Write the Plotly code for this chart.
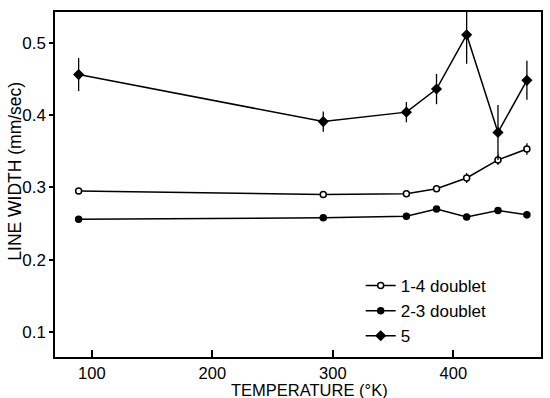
import plotly.graph_objects as go

temps = [89, 292, 361, 386, 411, 437, 461]
w14 = [0.295, 0.290, 0.291, 0.298, 0.313, 0.338, 0.353]
e14 = [0.002, 0.002, 0.002, 0.004, 0.007, 0.007, 0.008]
w23 = [0.256, 0.258, 0.260, 0.270, 0.259, 0.268, 0.262]
e23 = [0.002, 0.002, 0.002, 0.004, 0.004, 0.004, 0.005]
w5 = [0.456, 0.391, 0.404, 0.436, 0.511, 0.376, 0.448]
e5 = [0.023, 0.014, 0.014, 0.021, 0.040, 0.038, 0.027]

FONT = "Liberation Sans"
fig = go.Figure()

def add(name, y, err, symbol, size, fill):
    fig.add_trace(go.Scatter(
        x=temps, y=y, name=name, mode="lines+markers",
        line=dict(color="black", width=1.5),
        marker=dict(symbol=symbol, size=size, color=fill,
                    line=dict(color="black", width=1.5)),
        error_y=dict(type="data", array=err, visible=True,
                     color="black", thickness=1.3, width=0),
    ))

add("1-4 doublet", w14, e14, "circle", 6, "white")
add("2-3 doublet", w23, e23, "circle", 6, "black")
add("5", w5, e5, "diamond", 7, "black")

fig.update_layout(
    width=550, height=398,
    margin=dict(l=55, r=7, t=12, b=41),
    paper_bgcolor="white", plot_bgcolor="white",
    font=dict(family=FONT, size=16, color="black"),
    showlegend=True,
    legend=dict(x=0.629, y=0.258, xanchor="left", yanchor="top",
                bgcolor="rgba(0,0,0,0)", font=dict(size=17),
                itemwidth=30, tracegroupgap=0),
    xaxis=dict(range=[69.4, 472.7], tickvals=[100, 200, 300, 400],
               ticks="inside", ticklen=7, tickwidth=1.5, tickcolor="black",
               showline=True, linecolor="black", linewidth=1.5, mirror=True,
               showgrid=False, zeroline=False,
               tickfont=dict(size=16.5)),
    yaxis=dict(range=[0.0654, 0.5425], tickvals=[0.1, 0.2, 0.3, 0.4, 0.5],
               ticktext=["0.1", "0.2", "0.3", "0.4", "0.5"],
               ticks="outside", ticklen=4, tickwidth=1.5, tickcolor="black",
               showline=True, linecolor="black", linewidth=1.5, mirror=True,
               showgrid=False, zeroline=False,
               tickfont=dict(size=17)),
    annotations=[
        dict(text="TEMPERATURE (°K)", xref="paper", yref="paper",
             x=0.5246, y=-0.0945, xanchor="center", yanchor="middle",
             showarrow=False, font=dict(size=16.5)),
        dict(text="LINE WIDTH (mm/sec)", xref="paper", yref="paper",
             x=-0.083, y=0.539, xanchor="center", yanchor="middle",
             textangle=-90, showarrow=False, font=dict(size=17.5)),
    ],
)

fig.write_html("out.html")
